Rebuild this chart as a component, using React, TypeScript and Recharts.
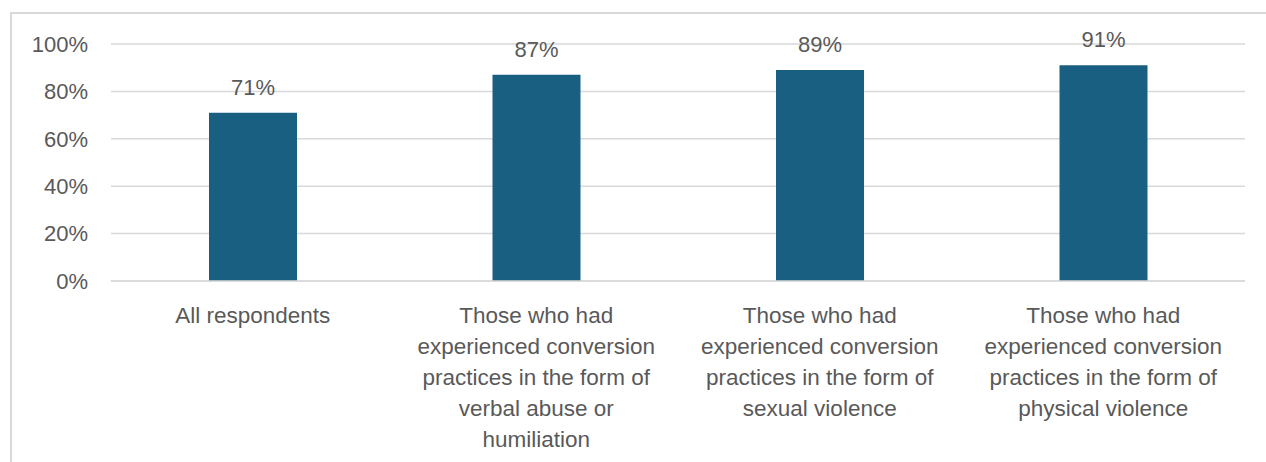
import { Bar, BarChart, CartesianGrid, LabelList, XAxis, YAxis } from "recharts";

const categories = [
  "All respondents",
  "Those who had\nexperienced conversion\npractices in the form of\nverbal abuse or\nhumiliation",
  "Those who had\nexperienced conversion\npractices in the form of\nsexual violence",
  "Those who had\nexperienced conversion\npractices in the form of\nphysical violence",
];
const shares = [0.71, 0.87, 0.89, 0.91];
const yTicks = [0, 0.2, 0.4, 0.6, 0.8, 1];

const data = categories.map((c, i) => ({ category: c, share: shares[i] }));

const FONT = "'Liberation Sans', Arial, sans-serif";
const GREY = "#595959";

const pct = (v: number) => `${Math.round(v * 100)}%`;

const CategoryTick = (props: any) => {
  const { x, y, payload } = props;
  const lines = String(payload.value).split("\n");
  return (
    <text x={x} y={y} textAnchor="middle" fill={GREY} fontSize={22.5} fontFamily={FONT}>
      {lines.map((line, i) => (
        <tspan key={i} x={x} dy={i === 0 ? 42 : 31}>
          {line}
        </tspan>
      ))}
    </text>
  );
};

export default function App() {
  return (
    <div style={{ position: "absolute", left: 0, top: 0, width: 1266, height: 462, background: "#fff", overflow: "hidden" }}>
      <div
        style={{
          position: "absolute",
          left: 10,
          top: 12,
          width: 1300,
          height: 500,
          borderLeft: "2px solid #d9d9d9",
          borderTop: "2px solid #d9d9d9",
        }}
      />
      <div style={{ position: "absolute", left: 0, top: 0 }}>
        <BarChart width={1266} height={462} data={data} margin={{ top: 44, right: 21, bottom: 11, left: 0 }} barSize={88}>
          <CartesianGrid vertical={false} stroke="#d9d9d9" strokeWidth={1.5} />
          <XAxis
            dataKey="category"
            height={170}
            axisLine={{ stroke: "#d9d9d9", strokeWidth: 1.5 }}
            tickLine={false}
            tickSize={0}
            tickMargin={0}
            interval={0}
            tick={<CategoryTick />}
          />
          <YAxis
            width={111}
            domain={[0, 1]}
            ticks={yTicks}
            tickFormatter={pct}
            axisLine={false}
            tickLine={false}
            tickSize={0}
            tickMargin={23}
            tick={{ fill: GREY, fontSize: 22, fontFamily: FONT }}
          />
          <Bar dataKey="share" fill="#185f82" isAnimationActive={false}>
            <LabelList
              dataKey="share"
              position="top"
              offset={18}
              formatter={(v: any) => pct(Number(v))}
              fill={GREY}
              fontSize={22}
              fontFamily={FONT}
            />
          </Bar>
        </BarChart>
      </div>
    </div>
  );
}
